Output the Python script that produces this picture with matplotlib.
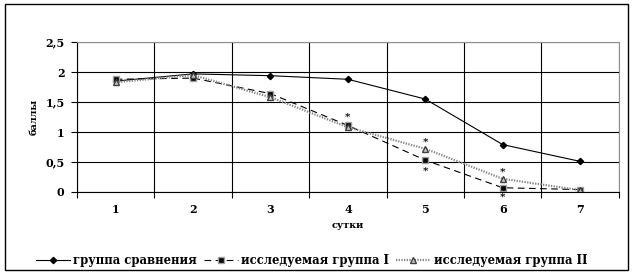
import matplotlib.pyplot as plt
from matplotlib.patches import Rectangle

plt.rcParams['font.family'] = ['DejaVu Serif']
plt.rcParams['font.weight'] = 'bold'

# data
days = [1, 2, 3, 4, 5, 6, 7]
comparison = [1.85, 1.97, 1.94, 1.88, 1.55, 0.79, 0.51]
group_1 = [1.88, 1.90, 1.64, 1.11, 0.53, 0.07, 0.04]
group_2 = [1.83, 1.95, 1.58, 1.08, 0.72, 0.22, 0.03]
star_days = [4, 5, 5, 6, 6]
star_vals = [1.25, 0.83, 0.34, 0.33, -0.08]
y_ticks = [0, 0.5, 1, 1.5, 2, 2.5]
y_labels = ['0', '0,5', '1', '1,5', '2', '2,5']
names = ['группа сравнения', 'исследуемая группа I', 'исследуемая группа II']

fig = plt.figure(figsize=(6.36, 2.79), dpi=100)
ax = fig.add_axes([0.121, 0.312, 0.852, 0.537])

ax.plot(days, comparison, color='black', lw=0.8, marker='D', ms=3.2,
        mfc='black', mec='black', label=names[0])
ax.plot(days, group_1, color='black', lw=0.8, ls=(0, (6, 4)), marker='s', ms=3.8,
        mfc='black', mec='#a0a0a0', label=names[1])
ax.plot(days, group_2, color='#888888', lw=1.6, ls=(0, (0.6, 0.6)), marker='^', ms=4.5,
        mfc='#c8c8c8', mec='#404040', label=names[2])

for d, v in zip(star_days, star_vals):
    ax.text(d, v, '*', ha='center', va='center', fontsize=7.5, clip_on=False)

ax.set_xlim(0.5, 7.5)
ax.set_ylim(0, 2.5)
ax.set_xticks([x + 0.5 for x in range(0, 8)])
ax.set_xticklabels([])
ax.set_xticks(days, minor=True)
ax.set_xticklabels([str(d) for d in days], minor=True, fontsize=8, fontweight='bold')
ax.tick_params(axis='x', which='major', length=4, width=0.8, direction='out')
ax.tick_params(axis='x', which='minor', length=0, pad=9)
ax.set_yticks(y_ticks)
ax.set_yticklabels(y_labels, fontsize=8, fontweight='bold')
ax.tick_params(axis='y', length=4, width=0.8, direction='out', pad=5)

ax.set_axisbelow(True)
ax.grid(True, which='major', color='black', lw=0.8)
for s in ['top', 'right']:
    ax.spines[s].set_color('#909090')
    ax.spines[s].set_linewidth(0.8)
for s in ['left', 'bottom']:
    ax.spines[s].set_linewidth(0.8)

ax.set_xlabel('сутки', fontsize=7, fontweight='bold', labelpad=4)
ax.set_ylabel('баллы', fontsize=7, fontweight='bold', labelpad=5)

fig.legend(loc='center', bbox_to_anchor=(0.49, 0.065), ncol=3, frameon=False,
           handlelength=2.9, columnspacing=0.6, handletextpad=0.3,
           prop={'weight': 'bold', 'size': 8.4})

fig.add_artist(Rectangle((5 / 636, 1 - 270 / 279), 623 / 636, 266 / 279,
                         transform=fig.transFigure, fill=False, ec='black', lw=1))

fig.savefig('out.png', dpi=100)
